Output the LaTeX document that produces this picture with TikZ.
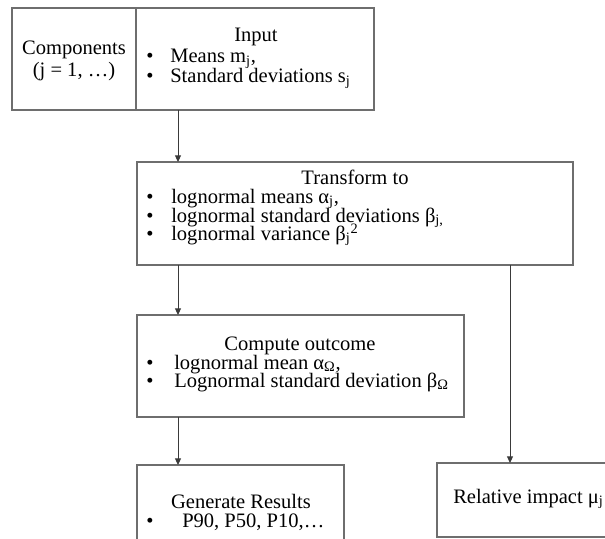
\documentclass[tikz,border=0pt]{standalone}
\usepackage{fontspec}
\setmainfont{Liberation Serif}
\usetikzlibrary{arrows.meta}
\definecolor{boxgray}{HTML}{6E6E6E}
\definecolor{arrgray}{HTML}{3A3A3A}
\newcommand\sbj{\textsubscript{j}}
\newcommand\sbO{\textsubscript{Ω}}
\begin{document}
\begin{tikzpicture}[x=0.75pt,y=-0.75pt,
  box/.style={draw=boxgray, line width=1.1pt, inner sep=0pt, outer sep=0pt, rectangle, anchor=north west},
  txt/.style={inner sep=0pt, text=black, font=\fontsize{15.4}{13.5}\selectfont},
  bul/.style={txt, anchor=base west},
  arr/.style={draw=arrgray, line width=0.75pt, -{Triangle[length=5pt,width=4.5pt]}}]
\useasboundingbox (0,0) rectangle (605,538);
\fill[white] (0,0) rectangle (605,538);
\begin{scope}
\clip (0,0) rectangle (605,538);
% boxes
\node[box, minimum width=93pt, minimum height=76.5pt] (comp) at (12,8) {};
\node[box, minimum width=178.5pt, minimum height=76.5pt] (input) at (136,8) {};
\node[box, minimum width=327pt, minimum height=77.25pt] (trans) at (137,162) {};
\node[box, minimum width=245.25pt, minimum height=76.5pt] (outc) at (137,315) {};
\node[box, minimum width=155.25pt, minimum height=71.25pt] (gen) at (137,465) {};
\node[box, minimum width=137.25pt, minimum height=55.5pt] (rel) at (437,463) {};
% connector columns
\coordinate (ax) at (178,0);
\coordinate (bx) at (510,0);
\draw[arr] (input.south -| ax) -- (trans.north -| ax);
\draw[arr] (trans.south -| ax) -- (outc.north -| ax);
\draw[arr] (outc.south -| ax) -- (gen.north -| ax);
\draw[arr] (trans.south -| bx) -- (rel.north -| bx);
% texts: components
\node[txt, anchor=base] (c1) at (74,55) {Components};
\node[txt, anchor=base] (c2) at (74,77) {(j = 1, …)};
% input
\node[txt, anchor=base] (i0) at (256,42) {Input};
\node[bul] (ib1) at (146,63) {•};
\node[bul] (i1) at (170,63) {Means m\sbj,};
\node[bul] (ib2) at (146,83) {•};
\node[bul] (i2) at (170,83) {Standard deviations s\sbj};
% transform
\node[txt, anchor=base] (t0) at (355,185) {Transform to};
\node[bul] (tb1) at (146,203) {•};
\node[bul] (t1) at (171,203) {lognormal means α\sbj,};
\node[bul] (tb2) at (146,222) {•};
\node[bul] (t2) at (171,222) {lognormal standard deviations β\textsubscript{j,}};
\node[bul] (tb3) at (146,240) {•};
\node[bul] (t3) at (171,240) {lognormal variance β\sbj\textsuperscript{2}};
% compute
\node[txt, anchor=base] (o0) at (300,350) {Compute outcome};
\node[bul] (ob1) at (146,369) {•};
\node[bul] (o1) at (174,369) {lognormal mean α\sbO,};
\node[bul] (ob2) at (146,387) {•};
\node[bul] (o2) at (174,387) {Lognormal standard deviation β\sbO};
% generate
\node[txt, anchor=base] (g0) at (241,508) {Generate Results};
\node[bul] (gb1) at (146,527) {•};
\node[bul] (g1) at (182,527) {P90, P50, P10,…};
% relative
\node[bul] (r0) at (453,503) {Relative impact μ\sbj};
\end{scope}
\end{tikzpicture}
\end{document}
